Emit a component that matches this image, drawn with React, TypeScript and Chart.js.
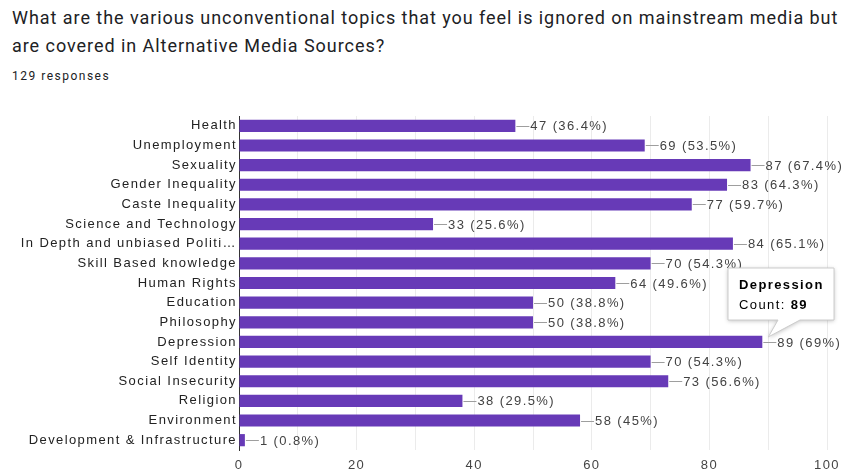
import React, { useEffect, useRef } from "react";
import { Chart, registerables } from "chart.js";

Chart.register(...registerables);

const categories = [
  "Health",
  "Unemployment",
  "Sexuality",
  "Gender Inequality",
  "Caste Inequality",
  "Science and Technology",
  "In Depth and unbiased Politi…",
  "Skill Based knowledge",
  "Human Rights",
  "Education",
  "Philosophy",
  "Depression",
  "Self Identity",
  "Social Insecurity",
  "Religion",
  "Environment",
  "Development & Infrastructure",
];
const counts = [47, 69, 87, 83, 77, 33, 84, 70, 64, 50, 50, 89, 70, 73, 38, 58, 1];
const percents = ["36.4", "53.5", "67.4", "64.3", "59.7", "25.6", "65.1", "54.3", "49.6", "38.8", "38.8", "69", "54.3", "56.6", "29.5", "45", "0.8"];
const xTicks = [0, 20, 40, 60, 80, 100];
const titleText = "What are the various unconventional topics that you feel is ignored on mainstream media but are covered in Alternative Media Sources?";
const responsesText = "129 responses";
const tooltipIndex = 11;

const FONT = "Arial, 'Liberation Sans', sans-serif";
const SPACING = "1.4px";

const spacingPlugin = {
  id: "spacing",
  beforeDraw(chart: any) {
    (chart.ctx as any).letterSpacing = SPACING;
  },
};

const labelPlugin = {
  id: "barLabels",
  afterDatasetsDraw(chart: any) {
    const ctx = chart.ctx;
    const meta = chart.getDatasetMeta(0);
    ctx.save();
    (ctx as any).letterSpacing = SPACING;
    ctx.font = `13px ${FONT}`;
    ctx.textBaseline = "middle";
    ctx.textAlign = "left";
    meta.data.forEach((bar: any, i: number) => {
      const x = bar.x;
      const y = bar.y;
      ctx.strokeStyle = "#9e9e9e";
      ctx.lineWidth = 1;
      ctx.beginPath();
      ctx.moveTo(x + 1, Math.round(y) + 0.5);
      ctx.lineTo(x + 14, Math.round(y) + 0.5);
      ctx.stroke();
      ctx.fillStyle = "#424242";
      ctx.fillText(`${counts[i]} (${percents[i]}%)`, x + 15, y + 1);
    });

    // tooltip
    const b = meta.data[tooltipIndex];
    const tipX = b.x + 6;
    const tipY = b.y - 5;
    const bx = 728, by = 268 - 100, bw = 106, bh = 52;
    ctx.shadowColor = "rgba(0,0,0,0.25)";
    ctx.shadowBlur = 4;
    ctx.shadowOffsetY = 1;
    ctx.fillStyle = "#ffffff";
    ctx.strokeStyle = "#cccccc";
    ctx.beginPath();
    ctx.moveTo(bx, by);
    ctx.lineTo(bx + bw, by);
    ctx.lineTo(bx + bw, by + bh);
    ctx.lineTo(bx + 72, by + bh);
    ctx.lineTo(tipX, tipY);
    ctx.lineTo(bx + 50, by + bh);
    ctx.lineTo(bx, by + bh);
    ctx.closePath();
    ctx.fill();
    ctx.shadowColor = "transparent";
    ctx.stroke();
    ctx.fillStyle = "#000000";
    ctx.textBaseline = "alphabetic";
    ctx.font = `bold 13px ${FONT}`;
    ctx.fillText(categories[tooltipIndex], bx + 11, by + 21);
    ctx.font = `13px ${FONT}`;
    const pre = "Count: ";
    ctx.fillText(pre, bx + 11, by + 41);
    const w = ctx.measureText(pre).width;
    ctx.font = `bold 13px ${FONT}`;
    ctx.fillText(String(counts[tooltipIndex]), bx + 11 + w, by + 41);
    ctx.restore();
  },
};

export default function App() {
  const ref = useRef<HTMLCanvasElement>(null);
  useEffect(() => {
    if (!ref.current) return;
    const chart = new Chart(ref.current, {
      type: "bar",
      data: {
        labels: categories,
        datasets: [
          {
            data: counts,
            backgroundColor: "#673ab7",
            borderWidth: 0,
            categoryPercentage: 0.62,
            barPercentage: 1,
          },
        ],
      },
      options: {
        indexAxis: "y",
        animation: false,
        responsive: false,
        maintainAspectRatio: false,
        events: [],
        layout: { padding: { top: 16, right: 25, left: 0, bottom: 0 } },
        plugins: { legend: { display: false }, tooltip: { enabled: false } },
        scales: {
          x: {
            min: 0,
            max: 100,
            ticks: {
              stepSize: 10,
              autoSkip: false,
              maxRotation: 0,
              padding: 8,
              color: "#444444",
              font: { family: FONT, size: 13 },
              callback: (v: any) => (xTicks.includes(Number(v)) ? String(v) : ""),
            },
            grid: { color: "#ebebeb", drawTicks: false },
            border: { display: false },
            afterFit: (s: any) => {
              s.height = 22;
            },
          },
          y: {
            ticks: {
              color: "#222222",
              padding: 2,
              font: { family: FONT, size: 13 },
              autoSkip: false,
            },
            grid: { display: false, drawTicks: false },
            border: { display: true, color: "#333333", width: 1 },
            afterFit: (s: any) => {
              s.width = 239;
            },
          },
        },
      },
      plugins: [spacingPlugin, labelPlugin],
    });
    return () => chart.destroy();
  }, []);

  return (
    <div style={{ position: "absolute", left: 0, top: 0, width: 852, height: 472, background: "#fff", overflow: "hidden" }}>
      <div
        style={{
          position: "absolute",
          left: 12,
          top: 4,
          width: 836,
          fontFamily: "Roboto, sans-serif",
          fontSize: 18,
          lineHeight: "28px",
          color: "#202124",
          letterSpacing: 0.95,
        }}
      >
        {titleText}
      </div>
      <div
        style={{
          position: "absolute",
          left: 12,
          top: 69,
          fontFamily: "Roboto, sans-serif",
          fontSize: 12,
          color: "#202124",
          letterSpacing: 1.5,
        }}
      >
        {responsesText}
      </div>
      <canvas ref={ref} width={852} height={372} style={{ position: "absolute", left: 0, top: 100, width: 852, height: 372 }} />
    </div>
  );
}
